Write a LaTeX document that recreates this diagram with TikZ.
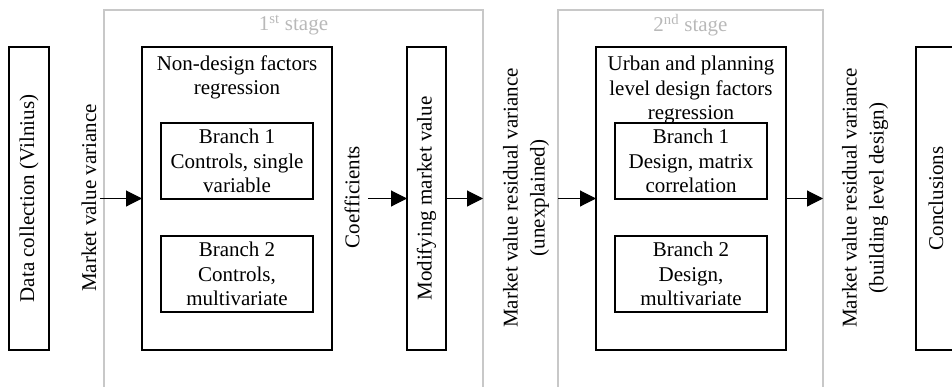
\documentclass[tikz,border=0pt]{standalone}
\usepackage{fontspec}
\setmainfont{Liberation Serif}
\usetikzlibrary{arrows.meta}
\definecolor{stageline}{RGB}{200,200,200}
\definecolor{stagetext}{RGB}{185,185,185}
\begin{document}
\begin{tikzpicture}[x=1pt,y=-1pt,
  every node/.style={font=\fontsize{21}{24.5}\selectfont, inner sep=0pt, outer sep=0pt},
  blackbox/.style={draw=black, line width=2.4pt},
  stagebox/.style={draw=stageline, line width=2.2pt},
  stagelabel/.style={text=stagetext},
  vtext/.style={rotate=90, align=center},
  flow/.style={line width=1.1pt, -{Triangle[length=16pt,width=16pt]}}
]
\clip (0,0) rectangle (952,386);

% stage frames (open towards the bottom)
\node[stagebox, minimum width=379, minimum height=400] (s1) at (293.5,210) {};
\node[stagebox, minimum width=265, minimum height=400] (s2) at (690.5,210) {};
\node[stagelabel] (s1l) at (293.5,25) {1\textsuperscript{st} stage};
\node[stagelabel] (s2l) at (690.5,25) {2\textsuperscript{nd} stage};

% data collection
\node[blackbox, minimum width=40, minimum height=303] (dc) at (29,198.5) {};
\node[vtext] (dct) at (dc) {Data collection (Vilnius)};
\node[vtext] (mvv) at (89,198) {Market value variance};
\coordinate (mvs) at (100,198.5);

% first stage
\node[blackbox, minimum width=190, minimum height=303] (nd) at (237,198.5) {};
\node[anchor=north, align=center] (ndt) at (237,55.5) {Non-design factors\\regression};
\node[blackbox, minimum width=152, minimum height=76, align=center] (b11) at (237,161) {Branch 1\\Controls, single\\variable};
\node[blackbox, minimum width=152, minimum height=76, align=center] (b12) at (237,274) {Branch 2\\Controls,\\multivariate};
\node[vtext] (cf) at (352,197) {Coefficients};
\coordinate (cfs) at (368,198.5);
\node[blackbox, minimum width=39, minimum height=303] (mod) at (426.5,198.5) {};
\node[vtext] (modt) at (mod) {Modifying market value};

\node[vtext, font=\fontsize{21}{27}\selectfont] (res1) at (526,198) {Market value residual variance\\(unexplained)};

% second stage
\node[blackbox, minimum width=190, minimum height=303] (ub) at (691,198.5) {};
\node[anchor=north, align=center] (ubt) at (691,56) {Urban and planning\\level design factors\\regression};
\node[blackbox, minimum width=152, minimum height=76, align=center] (b21) at (691,161) {Branch 1\\Design, matrix\\correlation};
\node[blackbox, minimum width=152, minimum height=76, align=center] (b22) at (691,274) {Branch 2\\Design,\\multivariate};

\node[vtext, font=\fontsize{21}{27}\selectfont] (res2) at (865,198) {Market value residual variance\\(building level design)};

% conclusions
\node[blackbox, minimum width=40, minimum height=303] (cc) at (936,198.5) {};
\node[vtext] (cct) at (cc) {Conclusions};

% flow arrows
\draw[flow] (mvs) -- (nd.west);
\draw[flow] (cfs) -- (mod.west);
\draw[flow] (mod.east) -- (mod.east -| s1.east);
\draw[flow] (ub.west -| s2.west) -- (ub.west);
\draw[flow] (ub.east) -- (ub.east -| s2.east);
\end{tikzpicture}
\end{document}
